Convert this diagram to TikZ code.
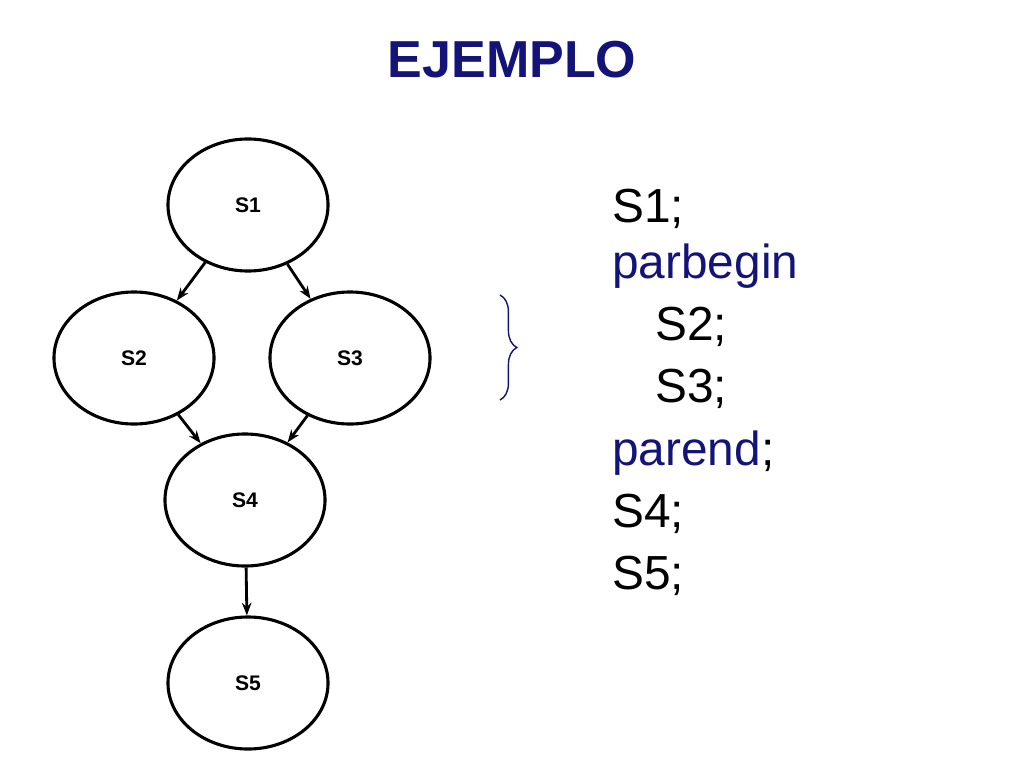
\documentclass[tikz,border=0pt]{standalone}
\usepackage{fontspec}
\setmainfont{Liberation Sans}
\usetikzlibrary{shapes.geometric,decorations.pathreplacing,arrows.meta}
\definecolor{navy}{RGB}{20,20,120}
\tikzset{
  proc/.style={draw, ellipse, line width=2.2pt, minimum width=4cm, minimum height=3.3cm,
    inner sep=0pt, font=\bfseries\fontsize{15}{18}\selectfont},
  code/.style={anchor=base west, inner sep=0pt, font=\fontsize{34}{40}\selectfont}
}
\begin{document}
\begin{tikzpicture}[x=0.025cm,y=-0.025cm]
\useasboundingbox (0,0) rectangle (1024,768);
\node[font=\bfseries\fontsize{37}{44}\selectfont, text=navy] (title) at (512,60) {EJEMPLO};

\node[proc] (s1) at (248,205) {S1};
\node[proc] (s2) at (134,358) {S2};
\node[proc] (s3) at (350,358) {S3};
\node[proc] (s4) at (245,500) {S4};
\node[proc] (s5) at (248,683) {S5};

\draw[-{Stealth[length=9pt]},line width=2pt] (s1) -- (s2);
\draw[-{Stealth[length=9pt]},line width=2pt] (s1) -- (s3);
\draw[-{Stealth[length=9pt]},line width=2pt] (s2) -- (s4);
\draw[-{Stealth[length=9pt]},line width=2pt] (s3) -- (s4);
\draw[-{Stealth[length=9pt]},line width=2pt] (s4) -- (s5);

\draw[navy, line width=1pt, decorate, decoration={brace, amplitude=12pt}] (500,295) -- (500,400);

\node[code] (c1) at (612,222) {S1;};
\node[code, text=navy] (c2) at (612,278) {parbegin};
\node[code] (c3) at (655,340) {S2;};
\node[code] (c4) at (655,402) {S3;};
\node[code] (c5) at (612,465) {\textcolor{navy}{parend};};
\node[code] (c6) at (612,527) {S4;};
\node[code] (c7) at (612,589) {S5;};
\end{tikzpicture}
\end{document}
